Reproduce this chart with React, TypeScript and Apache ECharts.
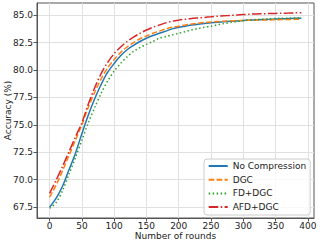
import React, { useEffect, useRef } from "react";
import * as echarts from "echarts";

const rounds = [0, 10, 20, 30, 40, 50, 60, 70, 80, 90, 100, 110, 120, 130, 140, 150, 160, 170, 180, 190, 200, 210, 220, 230, 240, 250, 260, 270, 280, 290, 300, 310, 320, 330, 340, 350, 360, 370, 380, 390];

const noCompression = [67.5, 68.3, 69.4, 70.9, 72.4, 74.2, 75.9, 77.4, 78.7, 79.8, 80.6, 81.3, 81.85, 82.25, 82.6, 82.9, 83.15, 83.35, 83.55, 83.75, 83.9, 84.0, 84.1, 84.18, 84.25, 84.3, 84.35, 84.4, 84.44, 84.48, 84.52, 84.55, 84.58, 84.6, 84.62, 84.65, 84.67, 84.69, 84.71, 84.73];

const dgc = [68.4, 69.5, 70.8, 72.2, 73.6, 75.0, 76.6, 78.0, 79.2, 80.2, 80.95, 81.6, 82.1, 82.5, 82.85, 83.1, 83.35, 83.55, 83.75, 83.9, 84.0, 84.1, 84.2, 84.27, 84.33, 84.38, 84.42, 84.45, 84.48, 84.5, 84.52, 84.54, 84.55, 84.56, 84.57, 84.58, 84.6, 84.61, 84.62, 84.63];

const fdDgc = [67.4, 67.9, 69.0, 70.5, 72.0, 73.6, 75.2, 76.6, 77.9, 79.0, 79.9, 80.6, 81.2, 81.7, 82.05, 82.35, 82.6, 82.9, 83.05, 83.2, 83.35, 83.5, 83.65, 83.78, 83.9, 84.0, 84.12, 84.23, 84.33, 84.42, 84.5, 84.56, 84.6, 84.64, 84.67, 84.7, 84.72, 84.73, 84.74, 84.75];

const afdDgc = [68.75, 69.95, 71.2, 72.55, 73.9, 75.2, 76.9, 78.4, 79.7, 80.7, 81.5, 82.1, 82.6, 83.0, 83.35, 83.65, 83.9, 84.1, 84.3, 84.45, 84.55, 84.63, 84.7, 84.75, 84.8, 84.85, 84.9, 84.94, 84.98, 85.02, 85.06, 85.09, 85.11, 85.13, 85.15, 85.16, 85.18, 85.19, 85.21, 85.22];

const seriesNames = ["No Compression", "DGC", "FD+DGC", "AFD+DGC"];
const xTicks = [0, 50, 100, 150, 200, 250, 300, 350, 400];
const yTicks = [67.5, 70.0, 72.5, 75.0, 77.5, 80.0, 82.5, 85.0];

const FONT = "DejaVu Sans";

export default function App() {
  const ref = useRef<HTMLDivElement>(null);
  useEffect(() => {
    if (!ref.current) return;
    const chart = echarts.init(ref.current, null, { renderer: "svg" });
    const all = [noCompression, dgc, fdDgc, afdDgc];
    const ys = all.flat();
    const yMinD = Math.min(...ys);
    const yMaxD = Math.max(...ys);
    const yPad = (yMaxD - yMinD) * 0.05;
    const xMinD = Math.min(...rounds);
    const xMaxD = Math.max(...rounds);
    const xPad = (xMaxD - xMinD) * 0.05;

    const colors = ["#1f77b4", "#ff7f0e", "#2ca02c", "#d62728"];
    const dashes: any[] = ["solid", [5.55, 2.4], [1.5, 2.475], [9.6, 2.4, 1.5, 2.4]];

    chart.setOption({
      animation: false,
      backgroundColor: "#ffffff",
      grid: {
        left: 37,
        right: 6,
        top: 3,
        bottom: 27,
        show: true,
        borderColor: "#555",
        borderWidth: 1,
        containLabel: false,
        outerBoundsMode: "none",
      },
      legend: {
        show: true,
        orient: "vertical",
        left: 204,
        top: 159,
        data: seriesNames,
        itemWidth: 19,
        itemHeight: 9,
        itemGap: 4.7,
        padding: [2.5, 4, 3.4, 3.7],
        backgroundColor: "rgba(255,255,255,0.8)",
        borderColor: "#cccccc",
        borderWidth: 1,
        borderRadius: 3,
        itemStyle: { opacity: 0 },
        textStyle: { fontFamily: FONT, fontSize: 9, color: "#222", lineHeight: 9 },
      },
      xAxis: {
        type: "value",
        min: xMinD - xPad,
        max: xMaxD + xPad,
        name: "Number of rounds",
        nameLocation: "middle",
        nameGap: 13,
        nameMoveOverlap: false,
        nameTextStyle: { fontFamily: FONT, fontSize: 9, color: "#222" },
        axisLine: { show: true, onZero: false, lineStyle: { color: "#555", width: 1 } },
        axisTick: { show: true, length: 3.5, inside: false, customValues: xTicks, lineStyle: { color: "#555" } },
        axisLabel: { customValues: xTicks, fontFamily: FONT, fontSize: 9, color: "#222", margin: 3 },
        splitLine: { show: true, lineStyle: { color: "#e0e0e0", width: 1 } },
      },
      yAxis: {
        type: "value",
        min: yMinD - yPad,
        max: yMaxD + yPad,
        name: "Accuracy (%)",
        nameLocation: "middle",
        nameGap: 25,
        nameMoveOverlap: false,
        nameTextStyle: { fontFamily: FONT, fontSize: 9, color: "#222" },
        axisLine: { show: true, onZero: false, lineStyle: { color: "#555", width: 1 } },
        axisTick: { show: true, length: 3.5, inside: false, customValues: yTicks, lineStyle: { color: "#555" } },
        axisLabel: {
          customValues: yTicks,
          formatter: (v: number) => v.toFixed(1),
          fontFamily: FONT,
          fontSize: 9,
          color: "#222",
          margin: 4,
        },
        splitLine: { show: true, lineStyle: { color: "#e0e0e0", width: 1 } },
      },
      series: all.map((vals, i) => ({
        name: seriesNames[i],
        type: "line",
        data: rounds.map((r, j) => [r, vals[j]]),
        symbol: "none",
        smooth: 0.3,
        color: colors[i],
        lineStyle: { color: colors[i], width: 1.5, type: dashes[i] },
        z: 2 + i,
      })),
    });
    return () => chart.dispose();
  }, []);
  return (
    <div
      ref={ref}
      style={{ position: "fixed", left: 0, top: 0, width: 320, height: 245 }}
    />
  );
}
